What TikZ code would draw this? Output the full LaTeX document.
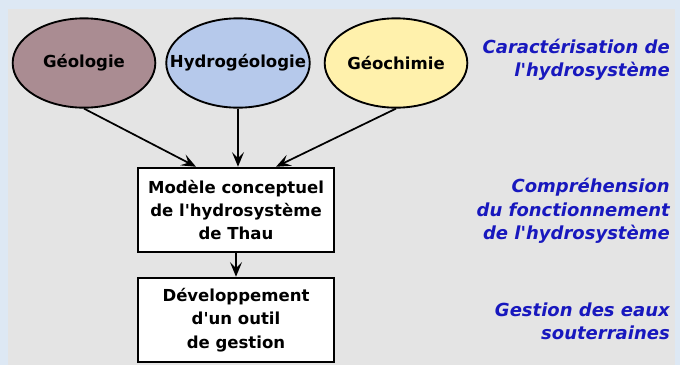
\documentclass[tikz,border=0pt]{standalone}
\usepackage{fontspec}
\setmainfont{DejaVu Sans}[Ligatures=TeXOff]
\usepackage{tikz}
\usetikzlibrary{shapes.geometric,arrows.meta,positioning}
\usepackage{xcolor}
\definecolor{OuterBlue}{RGB}{221,232,244}
\definecolor{PanelGray}{RGB}{228,228,228}
\definecolor{GeoMauve}{RGB}{170,140,146}
\definecolor{HydroBlue}{RGB}{182,201,235}
\definecolor{ChemYellow}{RGB}{255,241,172}
\definecolor{LabelBlue}{RGB}{24,24,190}

\begin{document}
\begin{tikzpicture}[
  x=0.75pt,y=-0.75pt,
  disc/.style={ellipse,draw=black,line width=1.4pt,minimum width=107pt,
               minimum height=67pt,inner xsep=-13pt,inner ysep=0pt,
               font=\fontsize{12.4}{15}\selectfont\bfseries},
  box/.style={draw=black,fill=white,line width=1.4pt,minimum width=147pt,
              minimum height=63.5pt,align=center,
              font=\fontsize{12.4}{17.5}\selectfont\bfseries},
  lbl/.style={anchor=east,align=right,text=LabelBlue,inner sep=0pt,
              font=\fontsize{13.5}{17.5}\selectfont\bfseries\itshape},
  arr/.style={-{Stealth[length=11pt,width=9pt,inset=4.5pt]},line width=1.3pt},
]
\useasboundingbox (0,0) rectangle (680,365);
\fill[OuterBlue] (0,0) rectangle (680,365);
\fill[PanelGray] (8,9) rectangle (675,365);
\node[disc,fill=GeoMauve] (geo) at (84,63) {Géologie};
\node[disc,fill=HydroBlue] (hydro) at (238,63) {Hydrogéologie};
\node[disc,fill=ChemYellow] (chem) at (396,63) {Géochimie};
\node[box] (modele) at (236,210)
  {Modèle conceptuel\\de l'hydrosystème\\de Thau};
\node[box] (outil) at (236,320)
  {Développement\\d'un outil\\de gestion};
\draw[arr] (geo.south) -- ([xshift=-30pt]modele.north);
\draw[arr] (hydro.south) -- (hydro.south |- modele.north);
\draw[arr] (chem.south) -- ([xshift=30pt]modele.north);
\draw[arr] (modele) -- (outil);
\node[lbl] (carac) at (670,60) {Caractérisation de\\l'hydrosystème};
\node[lbl] (compr) at (670,211) {Compréhension\\du fonctionnement\\de l'hydrosystème};
\node[lbl] (gest) at (670,321) {Gestion des eaux\\souterraines};
\end{tikzpicture}
\end{document}
